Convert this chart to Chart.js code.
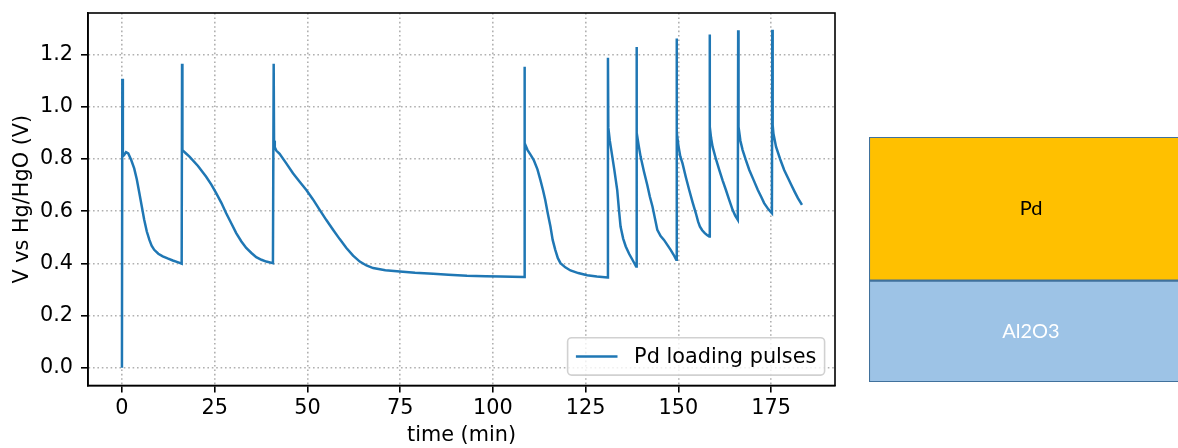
<!DOCTYPE html>
<html>
<head>
<meta charset="utf-8">
<script src="https://cdn.jsdelivr.net/npm/chart.js@4/dist/chart.umd.min.js"></script>
<style>
  html, body { margin: 0; padding: 0; background: #fff; overflow: hidden; width: 1178px; height: 448px; }
  #main { position: absolute; left: 0; top: 0; }
  #layers { position: absolute; left: 868px; top: 136px; }
</style>
</head>
<body>
<canvas id="main" width="850" height="448"></canvas>
<canvas id="layers" width="326" height="247"></canvas>
<script>
// ---- data ----
const timeMin = [
  0.0, 0.1, 0.25, 0.6, 1.1, 1.7, 2.5, 3.3, 4.0, 4.7, 5.4, 6.0, 6.7, 7.4, 8.0, 8.7, 9.8, 11.0, 12.3, 13.7, 15.0, 16.1,
  16.2, 16.3, 17.2, 18.2, 20.5, 22.7, 24.1, 25.4, 26.8, 28.1, 29.5, 30.8, 32.2, 33.5, 34.9, 36.2, 37.6, 38.9, 40.7,
  40.9, 41.0, 41.2, 41.6, 42.5, 44.3, 46.1, 47.9, 49.7, 51.5, 53.3, 55.1, 56.9, 58.7, 60.5, 62.3, 64.1, 65.9, 67.7,
  71.0, 74.9, 79.0, 83.9, 88.0, 93.0, 98.0, 102.0, 108.4,
  108.5, 108.6, 109.3, 110.2, 111.0, 112.0, 112.8, 113.5, 114.1, 114.8, 115.5, 116.1, 116.8, 117.5, 118.2, 119.5,
  120.9, 123.0, 125.4, 128.0, 130.9,
  131.0, 131.1, 131.5, 131.9, 132.7, 133.5, 134.0, 134.4, 135.1, 135.8, 136.7, 137.6, 138.6,
  138.7, 138.8, 139.3, 139.8, 140.7, 141.6, 142.3, 143.0, 143.7, 144.3, 145.2, 146.1, 147.0, 147.9, 148.7, 149.4,
  149.5, 149.6, 150.0, 150.5, 151.1, 152.0, 152.9, 153.8, 154.7, 155.3, 155.8, 156.4, 157.1, 157.7, 158.3,
  158.4, 158.5, 158.8, 159.2, 160.1, 161.0, 161.9, 162.8, 163.7, 164.6, 165.3, 166.0,
  166.1, 166.2, 166.7, 167.3, 168.2, 169.1, 170.3, 171.4, 172.3, 173.1, 174.2, 175.2,
  175.3, 175.4, 175.6, 176.3, 177.4, 178.5, 179.5, 180.4, 181.3, 182.2, 183.3
];
const voltage = [
  0.0, 1.107, 0.81, 0.815, 0.826, 0.821, 0.796, 0.764, 0.722, 0.669, 0.614, 0.567, 0.522, 0.490, 0.468, 0.452, 0.437, 0.427, 0.419, 0.411, 0.405, 0.399,
  1.165, 0.834, 0.822, 0.809, 0.773, 0.732, 0.702, 0.669, 0.632, 0.592, 0.553, 0.516, 0.484, 0.459, 0.440, 0.424, 0.414, 0.407, 0.401,
  1.165, 0.870, 0.845, 0.832, 0.820, 0.783, 0.745, 0.713, 0.681, 0.645, 0.605, 0.566, 0.529, 0.493, 0.459, 0.430, 0.407, 0.392, 0.382,
  0.374, 0.369, 0.364, 0.360, 0.357, 0.353, 0.351, 0.350, 0.348,
  1.153, 0.860, 0.835, 0.815, 0.796, 0.760, 0.719, 0.680, 0.643, 0.590, 0.541, 0.490, 0.452, 0.420, 0.401, 0.385,
  0.373, 0.363, 0.355, 0.350, 0.346,
  1.188, 0.920, 0.870, 0.834, 0.760, 0.681, 0.600, 0.541, 0.495, 0.465, 0.437, 0.414, 0.388,
  1.229, 0.900, 0.850, 0.809, 0.752, 0.700, 0.655, 0.618, 0.570, 0.529, 0.505, 0.490, 0.471, 0.452, 0.433, 0.414,
  1.261, 0.900, 0.850, 0.810, 0.783, 0.730, 0.681, 0.635, 0.592, 0.560, 0.541, 0.527, 0.516, 0.509, 0.503,
  1.277, 0.923, 0.880, 0.847, 0.800, 0.758, 0.718, 0.681, 0.642, 0.605, 0.583, 0.567,
  1.293, 0.923, 0.870, 0.834, 0.795, 0.758, 0.718, 0.681, 0.655, 0.631, 0.608, 0.592,
  1.295, 0.930, 0.898, 0.847, 0.800, 0.758, 0.728, 0.701, 0.675, 0.650, 0.624
];
const seriesLabel = 'Pd loading pulses';
const xTickValues = [0, 25, 50, 75, 100, 125, 150, 175];
const yTickValues = [0.0, 0.2, 0.4, 0.6, 0.8, 1.0, 1.2];
const xTitle = 'time (min)';
const yTitle = 'V vs Hg/HgO (V)';

const layerNames = ['Al2O3', 'Pd'];
const layerThickness = [101, 143];
const layerColors = ['#9DC3E6', '#FFC000'];
const layerTextColors = ['#ffffff', '#000000'];

// ---- main chart ----
const FONT = 'DejaVu Sans';
const FS = 20.8;
const tickFont = { family: FONT, size: FS };

const framePlugin = {
  id: 'frame',
  afterDraw(chart) {
    const { ctx, chartArea: a } = chart;
    ctx.save();
    ctx.strokeStyle = '#000';
    ctx.lineWidth = 1.6;
    ctx.strokeRect(a.left, a.top, a.right - a.left, a.bottom - a.top);
    ctx.restore();
  }
};

const legendPlugin = {
  id: 'mplLegend',
  afterDraw(chart) {
    const { ctx, chartArea: a } = chart;
    const ds = chart.data.datasets[0];
    ctx.save();
    ctx.font = FS + 'px "' + FONT + '"';
    const tw = ctx.measureText(ds.label).width;
    const pad = 8.3, handle = 41.6, gap = 16.6, axpad = 10.4;
    const w = pad + handle + gap + tw + pad;
    const h = pad * 2 + FS;
    const x = a.right - axpad - w;
    const y = a.bottom - axpad - h;
    const r = 4;
    ctx.beginPath();
    ctx.moveTo(x + r, y);
    ctx.lineTo(x + w - r, y);
    ctx.arcTo(x + w, y, x + w, y + r, r);
    ctx.lineTo(x + w, y + h - r);
    ctx.arcTo(x + w, y + h, x + w - r, y + h, r);
    ctx.lineTo(x + r, y + h);
    ctx.arcTo(x, y + h, x, y + h - r, r);
    ctx.lineTo(x, y + r);
    ctx.arcTo(x, y, x + r, y, r);
    ctx.closePath();
    ctx.fillStyle = 'rgba(255,255,255,0.8)';
    ctx.fill();
    ctx.strokeStyle = 'rgba(204,204,204,0.9)';
    ctx.lineWidth = 1.6;
    ctx.stroke();
    const cy = y + h / 2;
    ctx.strokeStyle = ds.borderColor;
    ctx.lineWidth = ds.borderWidth;
    ctx.beginPath();
    ctx.moveTo(x + pad, cy);
    ctx.lineTo(x + pad + handle, cy);
    ctx.stroke();
    ctx.fillStyle = '#000';
    ctx.textBaseline = 'middle';
    ctx.textAlign = 'left';
    ctx.fillText(ds.label, x + pad + handle + gap, cy + 1);
    ctx.restore();
  }
};

const gridCommon = {
  color: '#b0b0b0',
  lineWidth: 1.6,
  drawTicks: true,
  tickLength: 7,
  tickColor: '#000',
  tickWidth: 1.6,
  tickBorderDash: []
};

new Chart(document.getElementById('main'), {
  type: 'line',
  data: {
    datasets: [{
      label: seriesLabel,
      data: timeMin.map((t, i) => ({ x: t, y: voltage[i] })),
      borderColor: '#1f77b4',
      borderWidth: 2.5,
      pointRadius: 0,
      tension: 0,
      fill: false
    }]
  },
  options: {
    responsive: false,
    animation: false,
    devicePixelRatio: 1,
    layout: { padding: { top: 13, right: 15, left: 0, bottom: 0 } },
    plugins: { legend: { display: false }, tooltip: { enabled: false } },
    scales: {
      x: {
        type: 'linear',
        min: -9.15,
        max: 192.2,
        afterBuildTicks: s => { s.ticks = xTickValues.map(v => ({ value: v })); },
        ticks: { font: tickFont, color: '#000', padding: 4, maxRotation: 0, callback: v => String(v) },
        grid: gridCommon,
        border: { display: true, color: '#000', width: 1.6, dash: [1.6, 2.8] },
        title: { display: true, text: xTitle, font: tickFont, color: '#000', padding: { top: 0, bottom: 0 } },
        afterFit: s => { s.height = 62.5; s.paddingLeft = 0; s.paddingRight = 0; }
      },
      y: {
        type: 'linear',
        min: -0.0676,
        max: 1.359,
        afterBuildTicks: s => { s.ticks = yTickValues.map(v => ({ value: v })); },
        ticks: { font: tickFont, color: '#000', padding: 8, callback: v => Number(v).toFixed(1) },
        grid: gridCommon,
        border: { display: true, color: '#000', width: 1.6, dash: [1.6, 2.8] },
        title: { display: true, text: yTitle, font: tickFont, color: '#000', padding: { top: 10, bottom: 0 } },
        afterFit: s => { s.width = 88; s.paddingTop = 0; s.paddingBottom = 0; }
      }
    }
  },
  plugins: [framePlugin, legendPlugin]
});

// ---- layer diagram ----
const layerLabelPlugin = {
  id: 'layerLabels',
  afterDatasetsDraw(chart) {
    const { ctx } = chart;
    ctx.save();
    ctx.font = '20px Lato';
    ctx.textAlign = 'center';
    ctx.textBaseline = 'middle';
    chart.data.datasets.forEach((ds, i) => {
      const el = chart.getDatasetMeta(i).data[0];
      const cx = el.x;
      const cy = (el.y + el.base) / 2;
      ctx.fillStyle = layerTextColors[i];
      ctx.fillText(ds.label, cx, cy);
    });
    ctx.restore();
  }
};

new Chart(document.getElementById('layers'), {
  type: 'bar',
  data: {
    labels: ['stack'],
    datasets: layerNames.map((n, i) => ({
      label: n,
      data: [layerThickness[i]],
      backgroundColor: layerColors[i],
      borderColor: '#41719C',
      borderWidth: 1.4,
      borderSkipped: false,
      barPercentage: 1,
      categoryPercentage: 1
    }))
  },
  options: {
    responsive: false,
    animation: false,
    devicePixelRatio: 1,
    layout: { padding: 1 },
    plugins: { legend: { display: false }, tooltip: { enabled: false } },
    scales: {
      x: { stacked: true, display: false },
      y: { stacked: true, display: false, min: 0, max: layerThickness.reduce((a, b) => a + b, 0) }
    }
  },
  plugins: [layerLabelPlugin]
});
</script>
</body>
</html>
